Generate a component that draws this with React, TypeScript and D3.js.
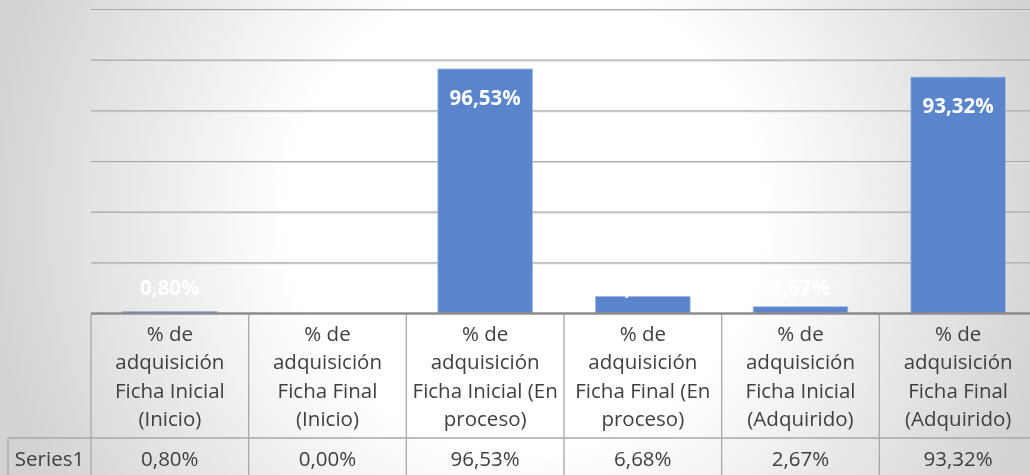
import React from "react";
import * as d3 from "d3";

// ---- Data ----
const categoryLines: string[][] = [
  ["% de", "adquisición", "Ficha Inicial", "(Inicio)"],
  ["% de", "adquisición", "Ficha Final", "(Inicio)"],
  ["% de", "adquisición", "Ficha Inicial (En", "proceso)"],
  ["% de", "adquisición", "Ficha Final (En", "proceso)"],
  ["% de", "adquisición", "Ficha Inicial", "(Adquirido)"],
  ["% de", "adquisición", "Ficha Final", "(Adquirido)"],
];
const categories: string[] = categoryLines.map((l) => l.join(" "));
const values: number[] = [0.8, 0.0, 96.53, 6.68, 2.67, 93.32];
const seriesName = "Series1";
const yTicks: number[] = [0, 20, 40, 60, 80, 100, 120];

const fmt = (v: number) => d3.format(".2f")(v).replace(".", ",") + "%";

export default function App() {
  const W = 1030;
  const H = 475;
  const left = 91;
  const right = 1037;
  const top = 9.5;
  const bottom = 313.5;
  const tableRow1 = 438;
  const seriesLeft = 8;
  const font = "'Open Sans', 'Noto Sans', sans-serif";
  const textColor = "#404040";
  const fs = 20.5;

  const x = d3
    .scaleBand<string>()
    .domain(categories)
    .range([left, right])
    .paddingInner(0.4)
    .paddingOuter(0.2);
  const y = d3.scaleLinear().domain([0, 120]).range([bottom, top]);
  const step = x.step();
  const colEdges = d3.range(categories.length + 1).map((i) => left + i * step);

  return (
    <div style={{ position: "fixed", left: 0, top: 0, width: W, height: H, overflow: "hidden" }}>
      <svg width={W} height={H} style={{ display: "block" }}>
        <defs>
          <radialGradient id="bg" gradientUnits="userSpaceOnUse" cx={525} cy={215} r={540}>
            <stop offset="0" stopColor="#ffffff" />
            <stop offset="0.44" stopColor="#ffffff" />
            <stop offset="1" stopColor="#d3d3d3" />
          </radialGradient>
        </defs>
        <rect x={0} y={0} width={W} height={H} fill="url(#bg)" />

        {/* gridlines */}
        {yTicks
          .filter((t) => t > 0)
          .map((t) => (
            <g key={t}>
              <line x1={left} x2={W} y1={y(t) + 1} y2={y(t) + 1} stroke="#dedede" strokeWidth={1} />
              <line x1={left} x2={W} y1={y(t)} y2={y(t)} stroke="#a8a8a8" strokeWidth={1.1} />
            </g>
          ))}

        {/* bars */}
        {values.map((v, i) => {
          const c = categories[i];
          const yv = y(v);
          const h = y(0) - yv;
          if (h <= 0) return null;
          return (
            <rect
              key={c}
              x={x(c)!}
              y={yv}
              width={x.bandwidth()}
              height={h}
              fill="#5a84cc"
              stroke="#a2b9e3"
              strokeWidth={0.8}
            />
          );
        })}

        {/* data labels */}
        {values.map((v, i) => {
          const c = categories[i];
          const base = Math.min(y(v) + 36, y(0) - 18.5);
          return (
            <text
              key={"l" + c}
              x={x(c)! + x.bandwidth() / 2}
              y={base}
              textAnchor="middle"
              fill="#ffffff"
              fontFamily={font}
              fontWeight={700}
              fontSize={fs}
            >
              {fmt(v)}
            </text>
          );
        })}

        {/* table lines */}
        <g stroke="#a8a8a8" strokeWidth={1.3}>
          {colEdges.map((ex, i) => (
            <line key={"v" + i} x1={ex} x2={ex} y1={bottom} y2={H} />
          ))}
          <line x1={seriesLeft} x2={W} y1={tableRow1} y2={tableRow1} />
          <line x1={seriesLeft} x2={seriesLeft} y1={tableRow1} y2={H} />
        </g>
        {/* axis line */}
        <line x1={left} x2={W} y1={y(0)} y2={y(0)} stroke="#8c8c8c" strokeWidth={2.6} />

        {/* header text */}
        {categoryLines.map((lines, i) => (
          <text
            key={"h" + i}
            x={x(categories[i])! + x.bandwidth() / 2}
            textAnchor="middle"
            fill={textColor}
            fontFamily={font}
            fontSize={fs}
          >
            {lines.map((ln, j) => (
              <tspan key={j} x={x(categories[i])! + x.bandwidth() / 2} y={332.5 + j * 28.5} dominantBaseline="central">
                {ln}
              </tspan>
            ))}
          </text>
        ))}

        {/* value row */}
        <text
          x={(seriesLeft + left) / 2}
          y={457.5}
          textAnchor="middle"
          dominantBaseline="central"
          fill={textColor}
          fontFamily={font}
          fontSize={fs}
        >
          {seriesName}
        </text>
        {values.map((v, i) => (
          <text
            key={"vr" + i}
            x={x(categories[i])! + x.bandwidth() / 2}
            y={457.5}
            textAnchor="middle"
            dominantBaseline="central"
            fill={textColor}
            fontFamily={font}
            fontSize={fs}
          >
            {fmt(v)}
          </text>
        ))}
      </svg>
    </div>
  );
}
